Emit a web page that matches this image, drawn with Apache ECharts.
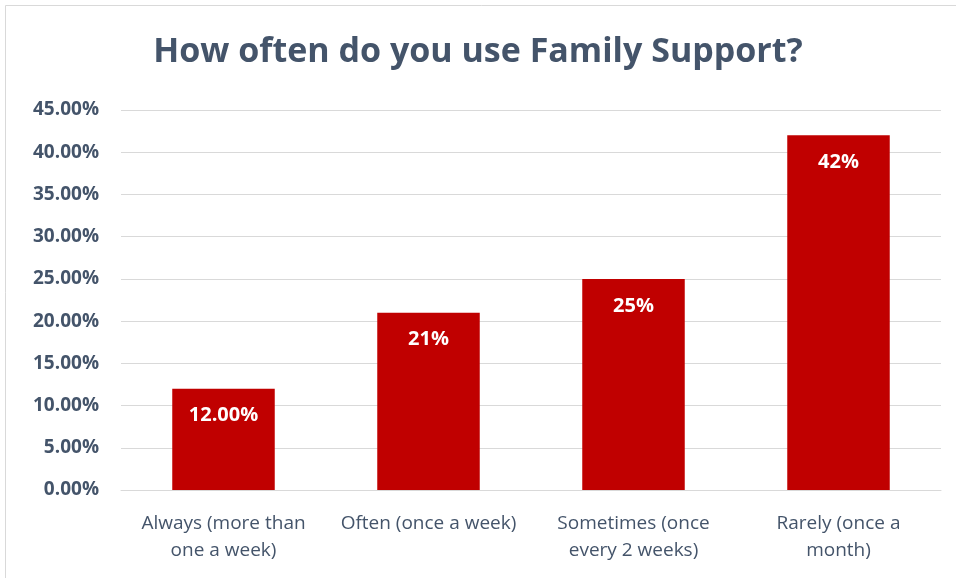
<!DOCTYPE html>
<html>
<head>
<meta charset="utf-8">
<script src="https://cdn.jsdelivr.net/npm/echarts@6/dist/echarts.min.js"></script>
<style>
  html, body { margin: 0; padding: 0; background: #ffffff; }
  #chart { width: 956px; height: 578px; }
</style>
</head>
<body>
<div id="chart"></div>
<script>
// Survey responses: how often Family Support is used
const categories = [
  'Always (more than\none a week)',
  'Often (once a week)',
  'Sometimes (once\nevery 2 weeks)',
  'Rarely (once a\nmonth)'
];
const shares = [12, 21, 25, 42];
const shareLabels = ['12.00%', '21%', '25%', '42%'];
const yTicks = [0, 5, 10, 15, 20, 25, 30, 35, 40, 45];

const FONT = '"Open Sans", sans-serif';
const SLATE = '#44546A';

const chart = echarts.init(document.getElementById('chart'), null, { renderer: 'canvas' });
chart.setOption({
  backgroundColor: '#ffffff',
  animation: false,
  graphic: [{
    type: 'rect',
    shape: { x: 5.5, y: 5.5, width: 960, height: 580 },
    style: { fill: 'none', stroke: '#d9d9d9', lineWidth: 1 },
    silent: true
  }],
  title: {
    text: 'How often do you use Family Support?',
    left: 'center',
    top: 30,
    textStyle: { fontFamily: FONT, fontSize: 34, fontWeight: 'bold', color: SLATE }
  },
  grid: { left: 121, right: 15, top: 110, bottom: 88, containLabel: false },
  xAxis: {
    type: 'category',
    data: categories,
    axisLine: { lineStyle: { color: '#d9d9d9', width: 1 } },
    axisTick: { show: false },
    axisLabel: {
      interval: 0,
      margin: 20,
      fontFamily: FONT,
      fontSize: 19,
      color: SLATE,
      lineHeight: 27
    }
  },
  yAxis: {
    type: 'value',
    min: yTicks[0],
    max: yTicks[yTicks.length - 1],
    interval: 5,
    axisLine: { show: false },
    axisTick: { show: false },
    splitLine: { lineStyle: { color: '#d9d9d9', width: 1 } },
    axisLabel: {
      margin: 22,
      fontFamily: FONT,
      fontSize: 19,
      fontWeight: 'bold',
      color: SLATE,
      formatter: v => v.toFixed(2) + '%'
    }
  },
  series: [{
    type: 'bar',
    data: shares,
    barWidth: '50%',
    itemStyle: { color: '#C00000' },
    label: {
      show: true,
      position: 'insideTop',
      distance: 17,
      fontFamily: FONT,
      fontSize: 20,
      fontWeight: 'bold',
      color: '#ffffff',
      formatter: p => shareLabels[p.dataIndex]
    }
  }]
});
</script>
</body>
</html>
